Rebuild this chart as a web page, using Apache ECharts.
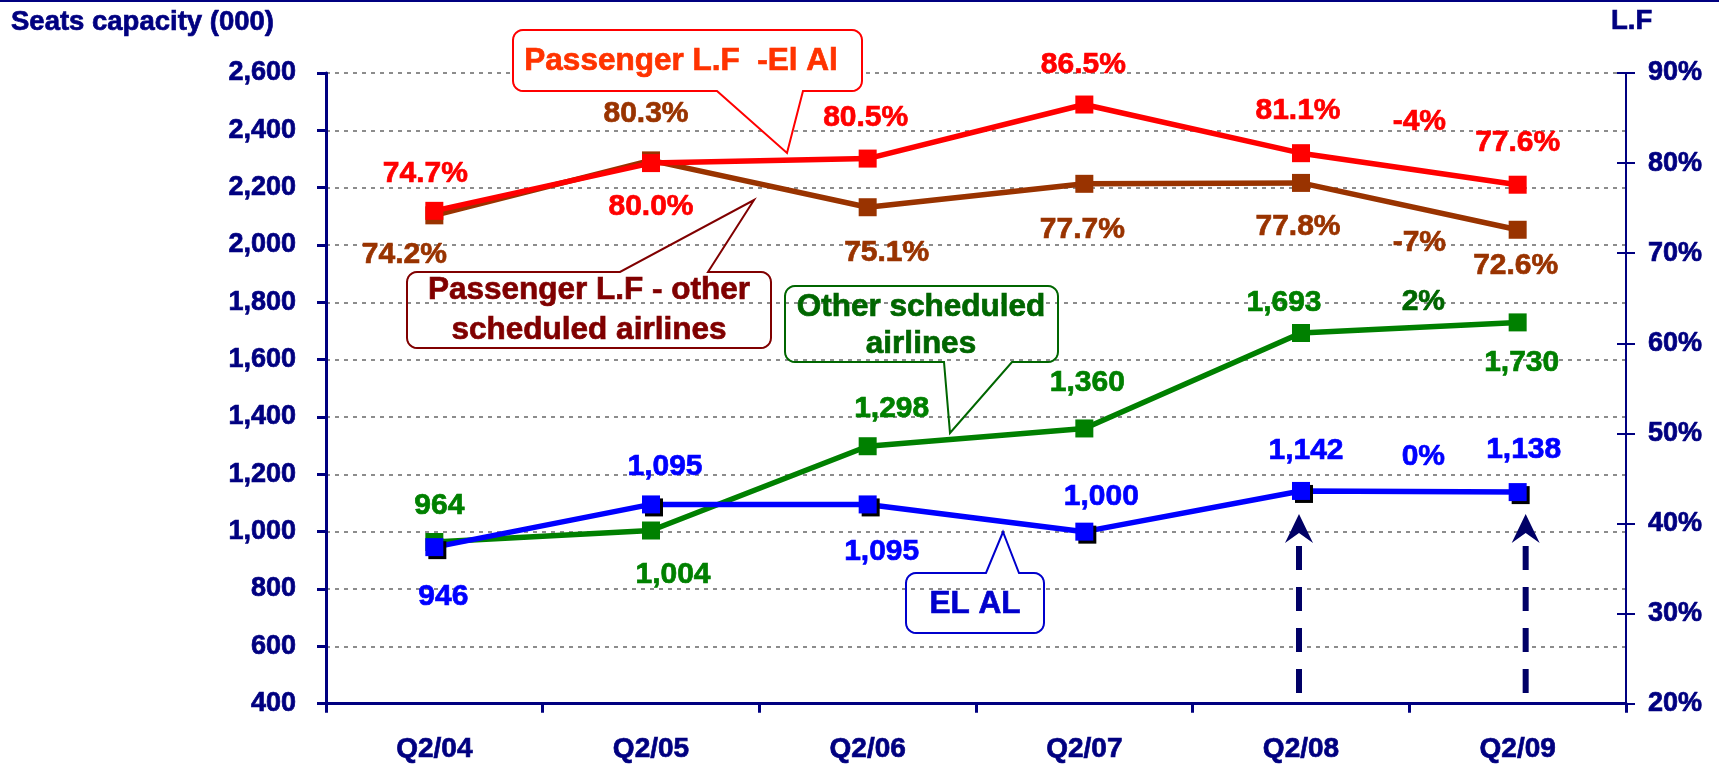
<!DOCTYPE html>
<html>
<head>
<meta charset="utf-8">
<script src="https://cdn.jsdelivr.net/npm/echarts@6/dist/echarts.min.js"></script>
<style>
html,body{margin:0;padding:0;background:#fff;}
#chart{width:1719px;height:764px;}
</style>
</head>
<body>
<div id="chart"></div>
<script>
// ---- data ----
const categories = ['Q2/04', 'Q2/05', 'Q2/06', 'Q2/07', 'Q2/08', 'Q2/09'];
const elalSeats = [946, 1095, 1095, 1000, 1142, 1138];
const otherSeats = [964, 1004, 1298, 1360, 1693, 1730];
const elalLF = [74.7, 80.0, 80.5, 86.5, 81.1, 77.6];
const otherLF = [74.2, 80.3, 75.1, 77.7, 77.8, 72.6];
const seatsAxis = { min: 400, max: 2600, interval: 200 };
const lfAxis = { min: 20, max: 90, interval: 10 };
const changeTexts = { elalLF: '-4%', otherLF: '-7%', otherSeats: '2%', elalSeats: '0%' };

// ---- label offsets (layout only) ----
const offElalLF = [[-9, -37], [0, 44], [-2, -41], [-1, -40], [-3, -42], [0, -42]];
const offOtherLF = [[-30, 39], [-5, -47], [19, 45], [-2, 46], [-3, 44], [-2, 36]];
const offOtherSeats = [[5, -36], [22, 44], [24, -37], [3, -46], [-17, -30], [4, 40]];
const offElalSeats = [[9, 50], [14, -38], [14, 47], [17, -35], [5, -40], [6, -42]];

const FONT = '"Liberation Sans", Arial, sans-serif';
const NAVY = '#000080';
const C_RED = '#FF0000', C_BROWN = '#993300', C_GREEN = '#008000', C_BLUE = '#0000FF';
const BOLDEN = 0.7;

function items(vals, offs) {
  return vals.map((v, i) => ({ value: v, label: { offset: offs[i] } }));
}
const fmtSeats = p => Number(p.value).toLocaleString('en-US');
const fmtLF = p => Number(p.value).toFixed(1) + '%';

function lineSeries(name, vals, offs, color, yIdx, fmt, z, shadow) {
  return {
    name, type: 'line', yAxisIndex: yIdx, z,
    data: items(vals, offs),
    symbol: 'rect', symbolSize: 18,
    lineStyle: { color, width: 5.5 },
    itemStyle: Object.assign({ color }, shadow ? { shadowColor: '#000', shadowOffsetX: 3, shadowOffsetY: 3, shadowBlur: 0 } : {}),
    label: { show: true, position: 'inside', color, fontSize: 30, fontWeight: 'bold', fontFamily: FONT, formatter: fmt,
      textBorderColor: color, textBorderWidth: BOLDEN },
    emphasis: { disabled: true },
    animation: false
  };
}

const chart = echarts.init(document.getElementById('chart'), null, { renderer: 'canvas' });

const axisText = { color: NAVY, fontWeight: 'bold', fontFamily: FONT, textBorderColor: NAVY, textBorderWidth: BOLDEN };

const option = {
  animation: false,
  backgroundColor: '#fff',
  grid: { left: 326, right: 93, top: 73, bottom: 60 },
  xAxis: {
    type: 'category', data: categories, boundaryGap: true,
    axisLine: { lineStyle: { color: NAVY, width: 3 } },
    axisTick: { show: true, length: 9, lineStyle: { color: NAVY, width: 3 } },
    axisLabel: Object.assign({ fontSize: 28, margin: 32 }, axisText),
    splitLine: { show: false }
  },
  yAxis: [
    {
      type: 'value', position: 'left', min: seatsAxis.min, max: seatsAxis.max, interval: seatsAxis.interval,
      axisLine: { show: true, lineStyle: { color: NAVY, width: 3 } },
      axisTick: { show: true, length: 9, lineStyle: { color: NAVY, width: 3 } },
      axisLabel: Object.assign({ fontSize: 27, margin: 30, formatter: v => Number(v).toLocaleString('en-US') }, axisText),
      splitLine: { show: true, lineStyle: { color: '#8c8c8c', width: 2, type: [4, 5] } }
    },
    {
      type: 'value', position: 'right', min: lfAxis.min, max: lfAxis.max, interval: lfAxis.interval,
      axisLine: { show: true, lineStyle: { color: NAVY, width: 2 } },
      axisTick: { show: true, length: 9, lineStyle: { color: NAVY, width: 2 } },
      axisLabel: Object.assign({ fontSize: 27, margin: 22, formatter: '{value}%' }, axisText),
      splitLine: { show: false }
    },
    {
      type: 'value', position: 'right', min: lfAxis.min, max: lfAxis.max, interval: lfAxis.interval,
      axisLine: { show: false },
      axisTick: { show: true, inside: true, length: 9, lineStyle: { color: NAVY, width: 2 } },
      axisLabel: { show: false },
      splitLine: { show: false }
    }
  ],
  series: [
    lineSeries('Passenger L.F - other scheduled airlines', otherLF, offOtherLF, C_BROWN, 1, fmtLF, 2, false),
    lineSeries('Passenger L.F -El Al', elalLF, offElalLF, C_RED, 1, fmtLF, 3, false),
    lineSeries('Other scheduled airlines', otherSeats, offOtherSeats, C_GREEN, 0, fmtSeats, 4, false),
    lineSeries('EL AL', elalSeats, offElalSeats, C_BLUE, 0, fmtSeats, 5, true)
  ]
};
chart.setOption(option);

// ---- annotations ----
function arcPts(pts, cx, cy, r, a0, a1) {
  const n = 6;
  for (let k = 0; k <= n; k++) {
    const a = (a0 + (a1 - a0) * k / n) * Math.PI / 180;
    pts.push([cx + r * Math.cos(a), cy + r * Math.sin(a)]);
  }
}
function callout(x, y, w, h, r, side, b1, b2, tx, ty) {
  const p = [];
  p.push([x + r, y]);
  if (side === 'top') { p.push([b1, y], [tx, ty], [b2, y]); }
  p.push([x + w - r, y]);
  arcPts(p, x + w - r, y + r, r, -90, 0);
  arcPts(p, x + w - r, y + h - r, r, 0, 90);
  if (side === 'bottom') { p.push([b2, y + h], [tx, ty], [b1, y + h]); }
  arcPts(p, x + r, y + h - r, r, 90, 180);
  arcPts(p, x + r, y + r, r, 180, 270);
  return p;
}
function box(points, stroke, fill) {
  return { type: 'polygon', z: 50, shape: { points }, style: { fill: fill || 'none', stroke, lineWidth: 2 } };
}
function txt(x, y, text, fill, size, align, lh) {
  return { type: 'text', z: 60, x, y, style: { text, fill, font: 'bold ' + size + 'px ' + FONT,
    align: align || 'center', verticalAlign: 'middle', lineHeight: lh || size,
    stroke: fill, lineWidth: BOLDEN } };
}

const gx = i => chart.convertToPixel({ xAxisIndex: 0 }, categories[i]);
const midX = (gx(4) + gx(5)) / 2;

function arrow(x) {
  return [
    { type: 'line', z: 40, shape: { x1: x, y1: 546, x2: x, y2: 697 }, style: { stroke: '#000066', lineWidth: 6, lineDash: [24, 17] } },
    { type: 'polygon', z: 40, shape: { points: [[x, 514], [x + 14, 543], [x, 533], [x - 14, 543]] }, style: { fill: '#000066' } }
  ];
}

const graphics = [
  { type: 'rect', z: 70, shape: { x: 0, y: 0, width: 1719, height: 2 }, style: { fill: NAVY } },
  txt(11, 22, 'Seats capacity (000)', NAVY, 27.5, 'left'),
  txt(1611, 21, 'L.F', NAVY, 27.5, 'left'),
  box(callout(513, 30, 349, 61, 10, 'bottom', 717, 803, 787, 153), '#FF0000', '#ffffff'),
  txt(681, 61, 'Passenger L.F  -El Al', '#FF3300', 31.5),
  box(callout(407, 272, 364, 76, 10, 'top', 620, 708, 754, 200), '#800000'),
  txt(589, 310, 'Passenger L.F - other\nscheduled airlines', '#800000', 31.5, 'center', 40),
  box(callout(785, 286, 273, 76, 10, 'bottom', 944, 1012, 950, 433), '#006600'),
  txt(921, 326, 'Other scheduled\nairlines', '#006600', 31.5, 'center', 37),
  box(callout(906, 573, 138, 60, 10, 'top', 986, 1019, 1003, 532), '#0000CC'),
  txt(975, 604, 'EL AL', '#0000CC', 31.5),
  txt(midX + 10, 122, changeTexts.elalLF, C_RED, 30),
  txt(midX + 10, 243, changeTexts.otherLF, C_BROWN, 30),
  txt(midX + 14, 302, changeTexts.otherSeats, '#006600', 30),
  txt(midX + 14, 457, changeTexts.elalSeats, C_BLUE, 30)
].concat(arrow(gx(4) - 2), arrow(gx(5) + 8));

chart.setOption({ graphic: graphics });
</script>
</body>
</html>
